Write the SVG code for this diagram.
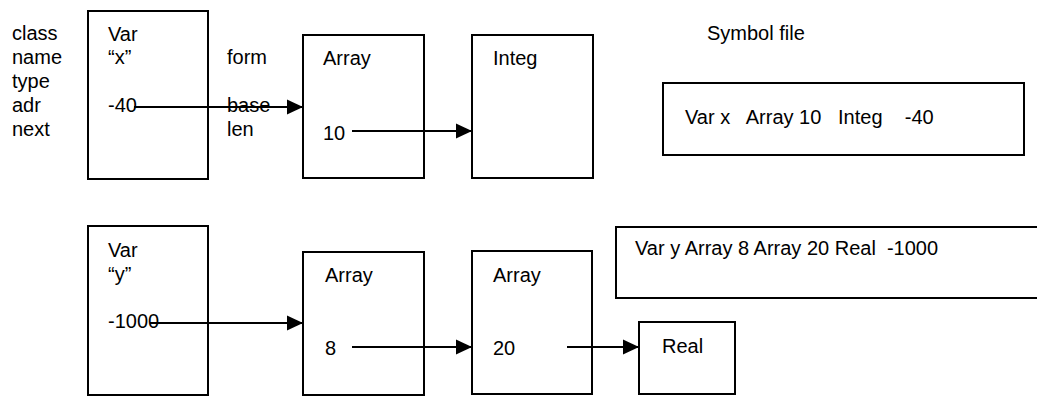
<svg xmlns="http://www.w3.org/2000/svg" width="1037" height="402" viewBox="0 0 1037 402">
<style>
text{font-family:"Liberation Sans",Arial,sans-serif;font-size:20px;fill:#000}
.box{fill:#fff;stroke:#000;stroke-width:2}
.con{stroke:#000;stroke-width:2;fill:none;marker-end:url(#ah)}
</style>
<defs>
<marker id="ah" markerUnits="userSpaceOnUse" markerWidth="16" markerHeight="16" viewBox="0 0 16 16" refX="16" refY="8" orient="auto">
<path d="M0,0.5 L16,8 L0,15.5 Z" fill="#000"/>
</marker>
</defs>
<rect width="1037" height="402" fill="#fff"/>
<g id="labels">
<text x="12" y="40">class</text>
<text x="12" y="64">name</text>
<text x="12" y="88">type</text>
<text x="12" y="112">adr</text>
<text x="12" y="136">next</text>
</g>
<g id="varx">
<rect class="box" x="88" y="11" width="120" height="168"/>
<text x="108" y="41">Var</text>
<text x="108" y="64">“x”</text>
<text x="108" y="112">-40</text>
</g>
<g id="arraylabels">
<text x="227" y="64">form</text>
<text x="227" y="112">base</text>
<text x="227" y="136">len</text>
</g>
<g id="array1">
<rect class="box" x="303" y="35" width="121" height="143"/>
<text x="323" y="65">Array</text>
<text x="323" y="140">10</text>
</g>
<g id="integ">
<rect class="box" x="472" y="35" width="121" height="143"/>
<text x="493" y="65">Integ</text>
</g>
<g id="symfile1">
<text x="707" y="40">Symbol file</text>
<rect class="box" x="663" y="83" width="361" height="72"/>
<text x="685" y="124" xml:space="preserve">Var x   Array 10   Integ    -40</text>
</g>
<g id="vary">
<rect class="box" x="88" y="226" width="120" height="169"/>
<text x="108" y="257">Var</text>
<text x="108" y="281">“y”</text>
<text x="108" y="328">-1000</text>
</g>
<g id="array2">
<rect class="box" x="303" y="252" width="121" height="143"/>
<text x="325" y="282">Array</text>
<text x="325" y="355">8</text>
</g>
<g id="array3">
<rect class="box" x="472" y="251" width="120" height="143"/>
<text x="493" y="282">Array</text>
<text x="493" y="355">20</text>
</g>
<g id="real">
<rect class="box" x="639" y="322" width="96" height="72"/>
<text x="662" y="353">Real</text>
</g>
<g id="symfile2">
<rect class="box" x="616" y="227" width="430" height="71"/>
<text x="635" y="255" xml:space="preserve">Var y Array 8 Array 20 Real  -1000</text>
</g>
<g id="connectors">
<line class="con" x1="134" y1="107" x2="303" y2="107"/>
<line class="con" x1="352" y1="131" x2="472" y2="131"/>
<line class="con" x1="150" y1="323" x2="303" y2="323"/>
<line class="con" x1="352" y1="347" x2="472" y2="347"/>
<line class="con" x1="567" y1="347" x2="639" y2="347"/>
</g>
</svg>
